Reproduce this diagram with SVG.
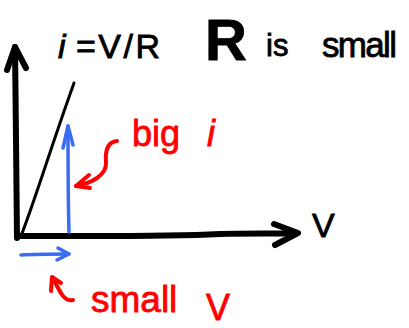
<svg xmlns="http://www.w3.org/2000/svg" width="409" height="328" viewBox="0 0 409 328">
<style>
.k{stroke:#000;fill:none;stroke-linecap:round;stroke-linejoin:round}
.ax{stroke-width:6}
.b{stroke:#3a6cf4;fill:none;stroke-width:3.5;stroke-linecap:round;stroke-linejoin:round}
.r{stroke:#f00;fill:none;stroke-width:4;stroke-linecap:round;stroke-linejoin:round}
.t{font-family:"Liberation Sans","DejaVu Sans",sans-serif;fill:#000;stroke:#000;stroke-width:0.8}
.red{fill:#f00;stroke:#f00}
</style>
<rect width="409" height="328" fill="#fff"/>
<g id="axes">
<path class="k ax" d="M17,238 C16,180 16,110 15,47"/>
<path class="k ax" d="M7,70 L15,47 L26,68"/>
<path class="k ax" d="M20,236 C100,236 160,237 220,234 C250,233 280,234 297,233"/>
<path class="k ax" d="M274,224 L298,233 L275,245"/>
<path class="k" stroke-width="3" d="M21,236 C35,200 50,150 74,83"/>
</g>
<g id="connectors">
<path class="b" d="M69,232 C68,200 68,160 68,126"/>
<path class="b" d="M63,148 L68,126 L73,145"/>
<path class="b" d="M21,255 C35,254 55,254 69,254"/>
<path class="b" d="M58,248 L69,254 L57,260"/>
<path class="r" d="M117,141 C108,142 105,150 106,162 C107,175 92,183 76,186"/>
<path class="r" d="M89,175 L76,186 L90,188"/>
<path class="r" d="M73,300 C64,302 60,292 53,278"/>
<path class="r" d="M51,291 L52,277 L61,283"/>
</g>
<g id="title">
<text class="t" x="58" y="58" font-size="34" font-style="italic">i</text>
<text class="t" x="76" y="58" font-size="34" textLength="84">=V/R</text>
<text class="t" x="205" y="60" font-size="58" font-weight="bold">R</text>
<text class="t" x="266" y="56" font-size="31">is</text>
<text class="t" x="322" y="57" font-size="35" textLength="75">small</text>
</g>
<g id="label-v">
<text class="t" x="312" y="237" font-size="34">V</text>
</g>
<g id="label-big-i">
<text class="t red" x="132" y="146" font-size="36">big<tspan x="207" font-style="italic">i</tspan></text>
</g>
<g id="label-small-v">
<text class="t red" x="91" y="312" font-size="37">small<tspan x="206" y="320" font-size="36">V</tspan></text>
</g>
</svg>
